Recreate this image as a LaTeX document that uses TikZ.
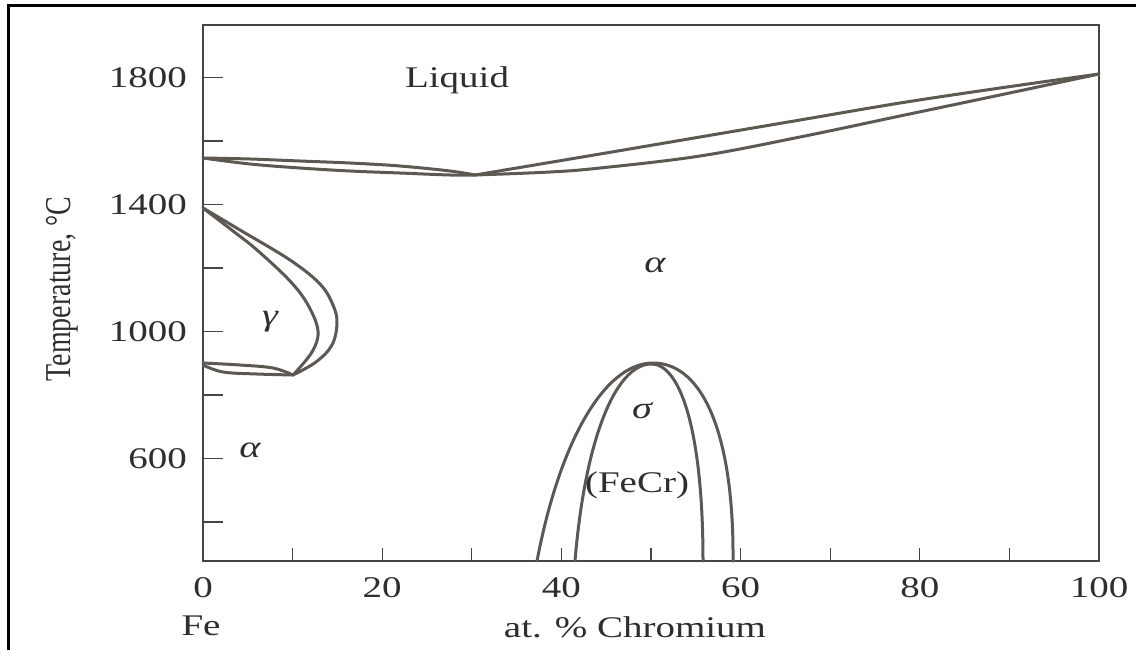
\documentclass[tikz,border=0pt]{standalone}
\usepackage{fontspec}
\usepackage{graphicx}
\setmainfont{Liberation Serif}[FakeStretch=1.3]
\newfontfamily\plainserif{Liberation Serif}
\definecolor{ink}{HTML}{2E2E2E}
\definecolor{curvec}{HTML}{5E5853}
\definecolor{axisc}{HTML}{454545}
\tikzset{
  tickline/.style={draw=axisc, line width=1.3pt},
  phaseline/.style={draw=curvec, line width=3pt, line join=round, line cap=round},
  lbl/.style={inner sep=0pt, text=ink},
  greek/.style={inner sep=0pt, text=ink, font=\fontsize{31}{34}\selectfont\itshape},
}
\begin{document}
\begin{tikzpicture}[x=1pt,y=-1pt,font=\fontsize{30}{34}\selectfont]
\useasboundingbox (0,0) rectangle (1136,649);
\fill[white] (0,0) rectangle (1136,649);
% outer border (top and left only)
\draw[line width=3pt, black] (8,652) -- (8,5) -- (1140,5);
% plot frame
\draw[axisc, line width=2pt] (203,25) rectangle (1099,561);
% ticks
\foreach \i in {1,...,9} \draw[tickline] ({203+89.6*\i},561) -- ++(0,-13);
\foreach \t in {400,600,...,1800} \draw[tickline] (203,{649-0.3175*\t}) -- ++(20,0);
% x tick labels
\foreach \v/\px in {0/203,20/382.2,40/561.4,60/740.6,80/919.8,100/1099}
  \node[lbl, anchor=base, name=x\v] at (\px,597) {\v};
\node[lbl, anchor=base] (fe) at (201,635) {Fe};
\node[lbl, anchor=base] (xlab) at (635,637) {at. \% Chromium};
% y tick labels
\foreach \t in {600,1000,1400,1800}
  \node[lbl, anchor=east, name=y\t] at (187,{649-0.3175*\t}) {\t};
\node[inner sep=0pt, text=ink] (ylab) at (62,289)
  {\scalebox{1.3}[1]{\rotatebox{90}{\plainserif\fontsize{28}{32}\selectfont Temperature, °C}}};
% liquidus / solidus
\draw[phaseline] plot[smooth, tension=0.6] coordinates {(203,158) (250,159) (300,161) (350,163) (400,166) (450,171) (475,175)};
\draw[phaseline] plot[smooth, tension=0.6] coordinates {(203,158) (250,164) (300,168) (350,171) (400,173) (450,175) (475,175)};
\draw[phaseline] plot[smooth, tension=0.6] coordinates {(475,175) (600,154) (700,137) (800,120) (900,103) (1000,88) (1099,74)};
\draw[phaseline] plot[smooth, tension=0.6] coordinates {(475,175) (550,172) (600,168) (700,156) (800,137) (900,116) (1000,95) (1099,74)};
% gamma loop
\draw[phaseline] plot[smooth, tension=0.6] coordinates {(203,208) (240,230) (290,260) (320,284) (333,305) (337,323) (332,345) (316,362) (293,375)};
\draw[phaseline] plot[smooth, tension=0.6] coordinates {(203,208) (233,231) (257,250) (290,281) (308,305) (318,331) (312,352) (293,375)};
\draw[phaseline] plot[smooth, tension=0.6] coordinates {(203,363) (240,365) (273,368) (293,375)};
\draw[phaseline] plot[smooth, tension=0.6] coordinates {(203,365) (223,372) (257,374) (293,375)};
% sigma phase (outer and inner arches)
\draw[phaseline] (537,561) .. controls (560,440) and (605,363) .. (653,363)
                           .. controls (705,363) and (734,440) .. (733,561);
\draw[phaseline] (575,561) .. controls (585,440) and (615,366) .. (650,364)
                           .. controls (680,362) and (703,430) .. (703,561);
% region labels
\node[lbl] (liq) at (457,80) {Liquid};
\node[greek] (alpha1) at (655,265) {α};
\node[greek] (gamma) at (270,322) {γ};
\node[greek] (alpha2) at (250,450) {α};
\node[greek] (sigma) at (642,411) {σ};
\node[lbl] (fecr) at (637,485) {(FeCr)};
\end{tikzpicture}
\end{document}
